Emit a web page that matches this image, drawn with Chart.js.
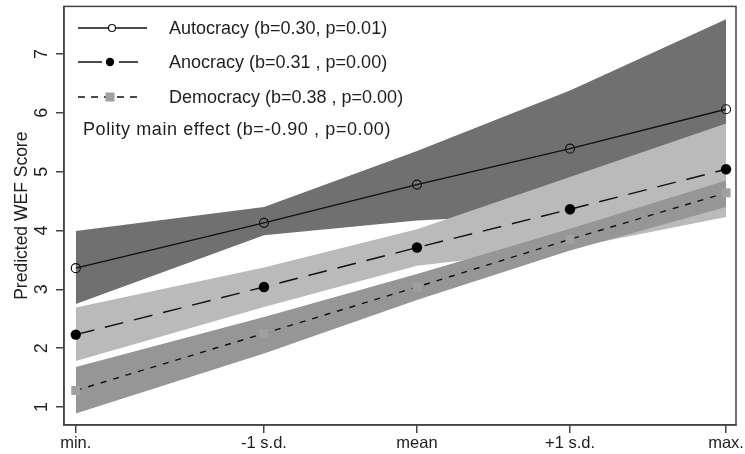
<!DOCTYPE html>
<html>
<head>
<meta charset="utf-8">
<script src="https://cdn.jsdelivr.net/npm/chart.js@4.4.1/dist/chart.umd.min.js"></script>
<style>
    body { margin: 0; background: #fff; }
    #wrap { width: 745px; height: 454px; }
</style>
</head>
<body>
<div id="wrap"><canvas id="box"></canvas></div>
<script>
// x positions (in s.d. units from the mean) and their labels
var xLabels = ['min.', '-1 s.d.', 'mean', '+1 s.d.', 'max.'];
var xVals = [-2.23, -1, 0, 1, 2.02];
var yTicks = [1, 2, 3, 4, 5, 6, 7];

// predicted WEF scores
var autocracy = [3.36, 4.13, 4.78, 5.39, 6.06];
var autocracyHi = [3.99, 4.40, 5.35, 6.38, 7.59];
var autocracyLo = [2.75, 3.92, 4.17, 4.30, 4.50];

var anocracy = [2.23, 3.04, 3.71, 4.36, 5.04];
var anocracyHi = [2.69, 3.37, 4.02, 4.91, 5.82];
var anocracyLo = [1.78, 2.70, 3.40, 3.70, 4.23];

var democracy = [1.28, 2.25, 3.04, 3.85, 4.64];
var democracyHi = [1.68, 2.53, 3.26, 4.03, 4.85];
var democracyLo = [0.89, 1.91, 2.82, 3.66, 4.40];

var legendLabels = [
    'Autocracy (b=0.30, p=0.01)',
    'Anocracy (b=0.31 , p=0.00)',
    'Democracy (b=0.38 , p=0.00)'
];
var mainEffectText = 'Polity main effect (b=-0.90 , p=0.00)';

var textColor = '#1e1e1e';
var frameColor = '#444';
var fontFamily = 'Arial, "Liberation Sans", sans-serif';

function pts(values) {
    return values.map(function (v, i) { return { x: xVals[i], y: v }; });
}

function band(label, values, color, order, fill) {
    return {
        label: label,
        data: pts(values),
        borderWidth: 0,
        borderColor: 'rgba(0,0,0,0)',
        backgroundColor: color,
        pointRadius: 0,
        fill: fill,
        order: order
    };
}

/* frame on top and right + legend inside the plot */
var framePlugin = {
    id: 'frameAndLegend',
    afterDraw: function (chart) {
        var ctx = chart.ctx;
        var a = chart.chartArea;
        ctx.save();
        ctx.strokeStyle = frameColor;
        ctx.lineWidth = 1.5;
        ctx.strokeRect(a.left, a.top, a.right - a.left, a.bottom - a.top);

        // legend rows reuse the styles of the three line datasets
        var lineSets = chart.data.datasets.slice(6);
        var rowY = [28, 62, 97];
        var lineEnd = [147, 138, 138];
        ctx.font = '18px ' + fontFamily;
        ctx.textBaseline = 'middle';
        lineSets.forEach(function (ds, i) {
            var y = rowY[i];
            ctx.save();
            ctx.strokeStyle = ds.borderColor;
            ctx.lineWidth = ds.borderWidth;
            ctx.setLineDash(ds.legendDash || []);
            ctx.beginPath();
            ctx.moveTo(78, y);
            ctx.lineTo(lineEnd[i], y);
            ctx.stroke();
            ctx.restore();

            ctx.fillStyle = ds.pointBackgroundColor;
            ctx.strokeStyle = ds.pointBorderColor;
            ctx.lineWidth = ds.pointBorderWidth;
            ctx.beginPath();
            if (ds.pointStyle === 'rect') {
                var s = ds.pointRadius * Math.SQRT1_2;
                ctx.rect(110 - s, y - s, 2 * s, 2 * s);
            } else {
                ctx.arc(i === 0 ? 112 : 110, y, ds.pointRadius - 1, 0, Math.PI * 2);
            }
            if (ds.pointStyle === 'circle' && ds.pointBorderWidth) {
                ctx.fillStyle = '#fff';
            }
            ctx.fill();
            if (ds.pointBorderWidth) ctx.stroke();
            ctx.fillStyle = textColor;
            ctx.fillText(legendLabels[i], 169, y + 1);
        });
        ctx.letterSpacing = '0.6px';
        ctx.fillText(mainEffectText, 83, 130);
        ctx.restore();
    }
};

var ctx = document.getElementById('box').getContext('2d');
var myChart = new Chart(ctx, {
    type: 'line',
    data: {
        datasets: [
            // bands: upper edge fills down to the lower edge dataset
            band('autoHi', autocracyHi, 'rgb(112,112,112)', 6, '+1'),
            band('autoLo', autocracyLo, 'rgba(0,0,0,0)', 6, false),
            band('anoHi', anocracyHi, 'rgb(186,186,186)', 5, '+1'),
            band('anoLo', anocracyLo, 'rgba(0,0,0,0)', 5, false),
            band('demoHi', democracyHi, 'rgb(150,150,150)', 4, '+1'),
            band('demoLo', democracyLo, 'rgba(0,0,0,0)', 4, false),
            {
                label: 'Autocracy',
                data: pts(autocracy),
                borderColor: '#111',
                borderWidth: 1.4,
                pointStyle: 'circle',
                pointRadius: 4.5,
                pointBorderWidth: 1.2,
                pointBorderColor: '#111',
                pointBackgroundColor: 'rgba(0,0,0,0)',
                fill: false,
                order: 1
            },
            {
                label: 'Anocracy',
                data: pts(anocracy),
                borderColor: '#111',
                borderWidth: 1.4,
                borderDash: [19, 11],
                legendDash: [24, 17],
                pointStyle: 'circle',
                pointRadius: 5.2,
                pointBorderWidth: 0,
                pointBorderColor: '#000',
                pointBackgroundColor: '#000',
                fill: false,
                order: 1
            },
            {
                label: 'Democracy',
                data: pts(democracy),
                borderColor: '#111',
                borderWidth: 1.4,
                borderDash: [6, 7],
                legendDash: [7, 6],
                pointStyle: 'rect',
                pointRadius: 6.4,
                pointBorderWidth: 0,
                pointBorderColor: 'rgb(160,160,160)',
                pointBackgroundColor: 'rgb(160,160,160)',
                fill: false,
                order: 0
            }
        ]
    },
    plugins: [framePlugin],
    options: {
        responsive: true,
        maintainAspectRatio: false,
        animation: false,
        layout: { padding: { top: 6, right: 9, left: 0, bottom: 0 } },
        plugins: {
            legend: { display: false },
            tooltip: { enabled: false },
            filler: { propagate: false }
        },
        scales: {
            x: {
                type: 'linear',
                min: -2.307,
                max: 2.085,
                afterBuildTicks: function (scale) {
                    scale.ticks = xVals.map(function (v) { return { value: v }; });
                },
                afterFit: function (scale) {
                    scale.height = 29;
                    scale.paddingLeft = 0;
                    scale.paddingRight = 0;
                },
                grid: {
                    display: true,
                    drawOnChartArea: false,
                    drawTicks: true,
                    tickLength: 8,
                    color: frameColor,
                    lineWidth: 1.5
                },
                border: { display: true, color: frameColor, width: 1.5 },
                ticks: {
                    color: textColor,
                    padding: 1,
                    maxRotation: 0,
                    autoSkip: false,
                    font: { family: fontFamily, size: 16.5 },
                    callback: function (val, i) { return xLabels[i]; }
                }
            },
            y: {
                type: 'linear',
                min: 0.694,
                max: 7.808,
                afterBuildTicks: function (scale) {
                    scale.ticks = yTicks.map(function (v) { return { value: v }; });
                },
                afterFit: function (scale) {
                    scale.width = 64;
                    // labels are rotated, no extra room above/below needed
                    scale.paddingTop = 0;
                    scale.paddingBottom = 0;
                },
                grid: {
                    display: true,
                    drawOnChartArea: false,
                    drawTicks: true,
                    tickLength: 8,
                    color: frameColor,
                    lineWidth: 1.5
                },
                border: { display: true, color: frameColor, width: 1.5 },
                title: {
                    display: true,
                    text: 'Predicted WEF Score',
                    color: textColor,
                    font: { family: fontFamily, size: 17.5 },
                    padding: { top: 12, bottom: 0 }
                },
                ticks: {
                    color: textColor,
                    padding: 9,
                    crossAlign: 'center',
                    minRotation: 90,
                    maxRotation: 90,
                    autoSkip: false,
                    font: { family: fontFamily, size: 18 },
                    callback: function (val) { return String(val); }
                }
            }
        }
    }
});
</script>
</body>
</html>
